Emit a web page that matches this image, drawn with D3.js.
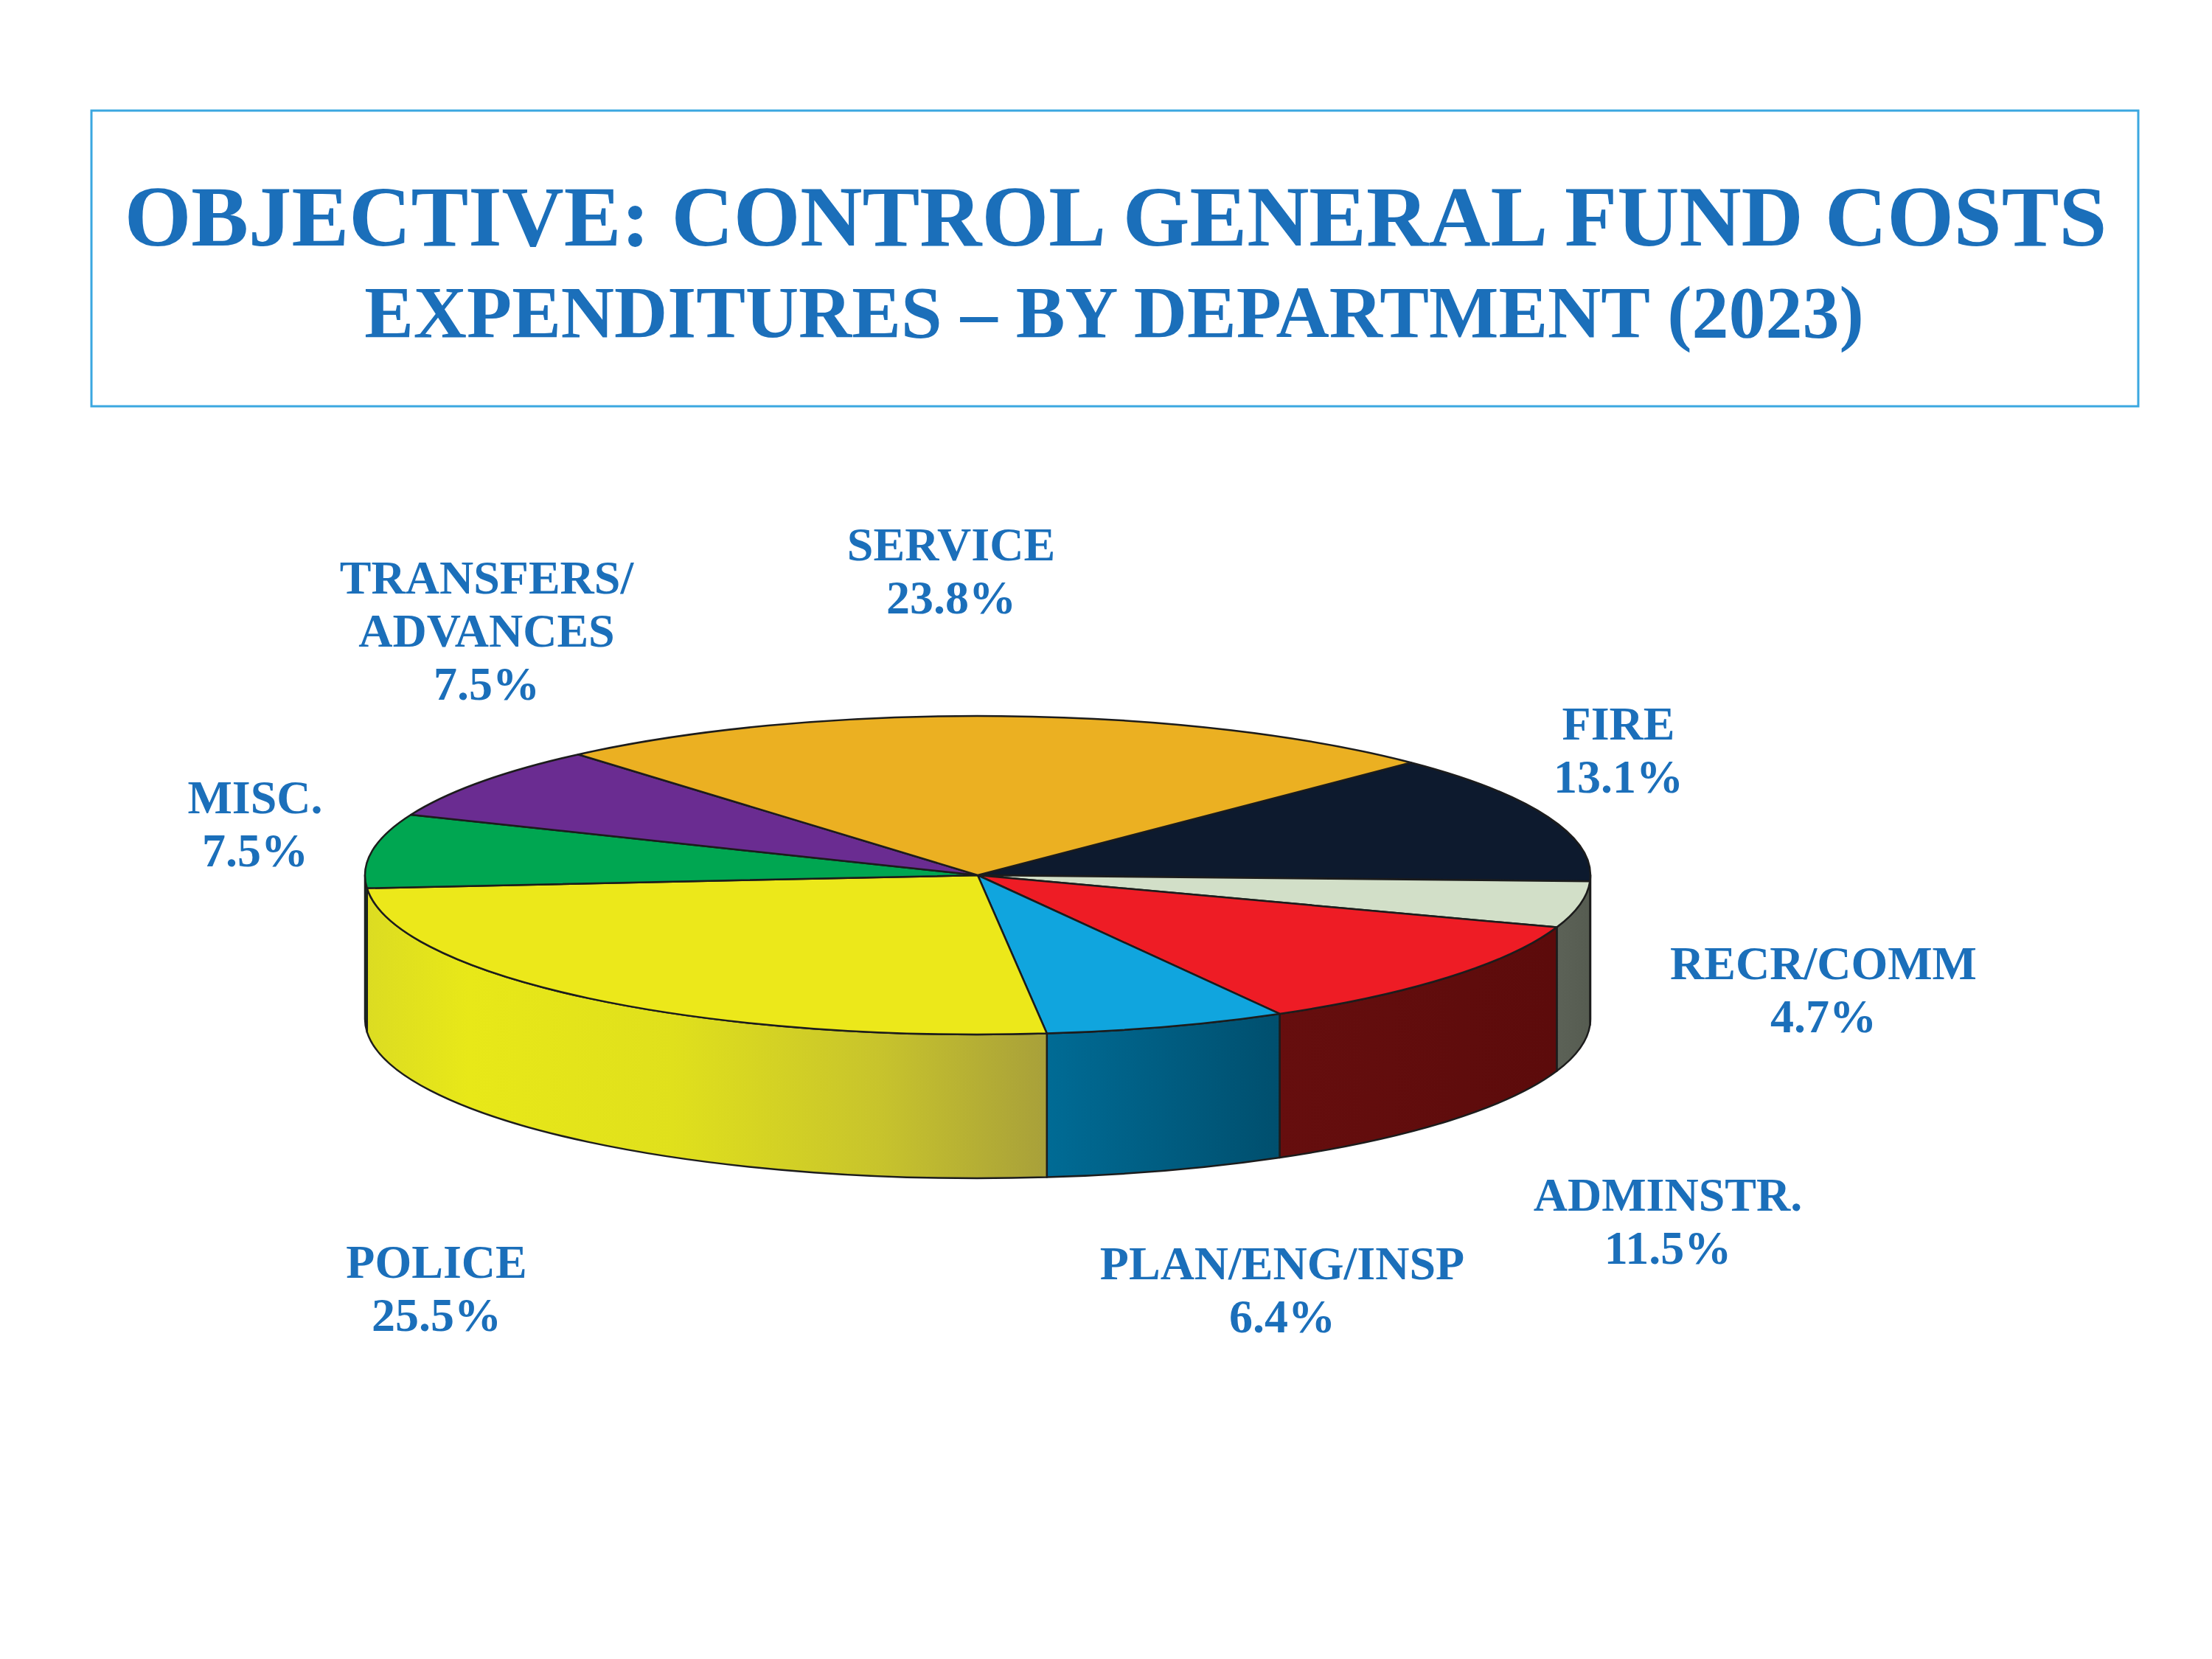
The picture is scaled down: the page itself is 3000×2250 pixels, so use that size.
<!DOCTYPE html>
<html>
<head>
<meta charset="utf-8">
<script src="https://cdn.jsdelivr.net/npm/d3@7"></script>
<style>
  html, body { margin: 0; padding: 0; background: #fff; }
  svg { display: block; }
  text { font-family: "Liberation Serif", "Times New Roman", serif; font-weight: bold; fill: #1b6fba; }
</style>
</head>
<body>
<svg></svg>
<script>
// expenditures by department, 3d pie

const width = 3000;
const height = 2250;

// datos
const departments = ["FIRE", "RECR/COMM", "ADMINSTR.", "PLAN/ENG/INSP", "POLICE", "MISC.", "TRANSFERS/ADVANCES", "SERVICE"];
const shares = [13.1, 4.7, 11.5, 6.4, 25.5, 7.5, 7.5, 23.8];
const labelLines = [["FIRE"], ["RECR/COMM"], ["ADMINSTR."], ["PLAN/ENG/INSP"], ["POLICE"], ["MISC."], ["TRANSFERS/", "ADVANCES"], ["SERVICE"]];

const titleText = "OBJECTIVE: CONTROL GENERAL FUND COSTS";
const subtitleText = "EXPENDITURES \u2013 BY DEPARTMENT (2023)";

// colores
const topColors = ["#0d1a2e", "#d2dfc8", "#ee1c25", "#10a5de", "#ece81a", "#00a651", "#6a2c91", "#ebb022"];
const sideStops = [
  [[0, "#0a1424"], [1, "#08101e"]],
  [[0, "#5c6257"], [1, "#565c51"]],
  [[0, "#660e0e"], [1, "#5c0b0b"]],
  [[0, "#006b95"], [1, "#004f6e"]],
  [[0, "#dcdc22"], [0.15, "#e8e818"], [0.45, "#e0e01c"], [0.75, "#c8c42c"], [1, "#a8a03a"]],
  [[0, "#008a42"], [1, "#007a3a"]],
  [[0, "#55226f"], [1, "#4b1e63"]],
  [[0, "#b8881a"], [1, "#a87a16"]]
];

// label anchors (center x, first baseline)
const labelPos = {
  "FIRE": [2195, 1003],
  "RECR/COMM": [2473, 1328],
  "ADMINSTR.": [2262, 1642],
  "PLAN/ENG/INSP": [1739, 1735],
  "POLICE": [592, 1733],
  "MISC.": [346, 1103],
  "TRANSFERS/ADVANCES": [660, 805],
  "SERVICE": [1290, 760]
};

const pieGeo = { cx: 1326, cy: 1187, rx: 831, ry: 216, depth: 195 };
const startAngle = 45 * Math.PI / 180;
const lineH = 72;

const svg = d3.select("svg").attr("width", width).attr("height", height);

svg.append("rect").attr("width", width).attr("height", height).attr("fill", "#fff");

// caja del titulo
svg
  .append("rect")
  .attr("x", 124)
  .attr("y", 150)
  .attr("width", 2776)
  .attr("height", 401)
  .attr("fill", "none")
  .attr("stroke", "#3ba7e0")
  .attr("stroke-width", 3);

svg
  .append("text")
  .attr("x", 1513)
  .attr("y", 333)
  .attr("text-anchor", "middle")
  .style("font-size", "116.6px")
  .text(titleText);

svg
  .append("text")
  .attr("x", 1511)
  .attr("y", 457)
  .attr("text-anchor", "middle")
  .style("font-size", "100px")
  .text(subtitleText);

// pie layout
const data = departments.map((d, i) => ({ name: d, value: shares[i], i: i }));

const pie = d3
  .pie()
  .sort(null)
  .value((d) => d.value)
  .startAngle(startAngle)
  .endAngle(startAngle + 2 * Math.PI);

const arcs = pie(data);

// angle -> point on the tilted ellipse
const px = (a) => pieGeo.cx + pieGeo.rx * Math.sin(a);
const py = (a) => pieGeo.cy - pieGeo.ry * Math.cos(a);

const defs = svg.append("defs");
sideStops.forEach((stops, i) => {
  const g = defs
    .append("linearGradient")
    .attr("id", "side" + i)
    .attr("x1", "0%")
    .attr("x2", "100%")
    .attr("y1", "0%")
    .attr("y2", "0%");
  stops.forEach((s) => g.append("stop").attr("offset", s[0]).attr("stop-color", s[1]));
});

// paredes frontales
const front0 = Math.PI / 2;
const front1 = 3 * Math.PI / 2;
const sides = arcs
  .map((a) => ({ a: a, b0: Math.max(a.startAngle, front0), b1: Math.min(a.endAngle, front1) }))
  .filter((s) => s.b1 > s.b0);

const sidePath = (s) => {
  const { rx, ry, depth } = pieGeo;
  const x0 = px(s.b0), y0 = py(s.b0), x1 = px(s.b1), y1 = py(s.b1);
  return `M${x0},${y0} A${rx},${ry} 0 0 1 ${x1},${y1} L${x1},${y1 + depth} A${rx},${ry} 0 0 0 ${x0},${y0 + depth} Z`;
};

svg
  .append("g")
  .selectAll("path")
  .data(sides)
  .join("path")
  .attr("d", sidePath)
  .attr("fill", (s) => `url(#side${s.a.data.i})`)
  .attr("stroke", "#1c1c1c")
  .attr("stroke-width", 2.5)
  .attr("stroke-linejoin", "round");

// cara superior
const topPath = (a) => {
  const { cx, cy, rx, ry } = pieGeo;
  const large = a.endAngle - a.startAngle > Math.PI ? 1 : 0;
  return `M${cx},${cy} L${px(a.startAngle)},${py(a.startAngle)} A${rx},${ry} 0 ${large} 1 ${px(a.endAngle)},${py(a.endAngle)} Z`;
};

svg
  .append("g")
  .selectAll("path")
  .data(arcs)
  .join("path")
  .attr("d", topPath)
  .attr("fill", (a) => topColors[a.data.i])
  .attr("stroke", "#1c1c1c")
  .attr("stroke-width", 2.5)
  .attr("stroke-linejoin", "round");

// etiquetas
const fmt = d3.format(".1f");
const labels = svg
  .append("g")
  .selectAll("text")
  .data(arcs)
  .join("text")
  .attr("text-anchor", "middle")
  .style("font-size", "64px");

labels.each(function (a) {
  const pos = labelPos[a.data.name];
  const lines = labelLines[a.data.i].concat([fmt(a.data.value) + "%"]);
  d3.select(this)
    .selectAll("tspan")
    .data(lines)
    .join("tspan")
    .attr("x", pos[0])
    .attr("y", (d, k) => pos[1] + k * lineH)
    .text((d) => d);
});
</script>
</body>
</html>
